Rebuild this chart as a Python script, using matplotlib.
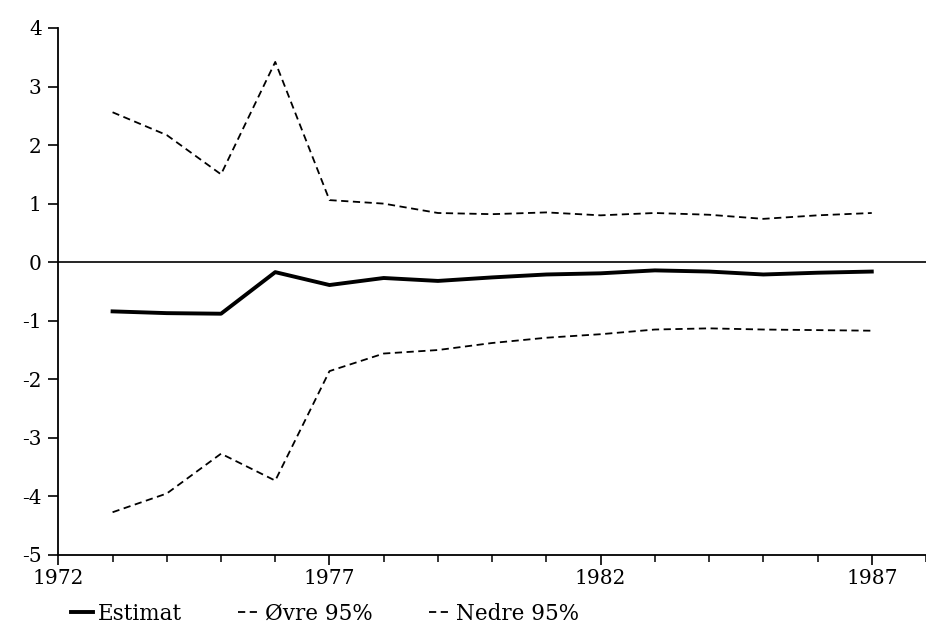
import matplotlib
matplotlib.use("Agg")
import matplotlib.pyplot as plt
import numpy as np

years = np.arange(1973, 1988)
estimat = [-0.84, -0.87, -0.88, -0.17, -0.39, -0.27, -0.32, -0.26, -0.21, -0.19,
           -0.14, -0.16, -0.21, -0.18, -0.16]
ovre = [2.56, 2.17, 1.50, 3.42, 1.06, 1.00, 0.84, 0.82, 0.85, 0.80,
        0.84, 0.81, 0.74, 0.80, 0.84]
nedre = [-4.27, -3.95, -3.27, -3.73, -1.86, -1.56, -1.50, -1.38, -1.29, -1.23,
         -1.15, -1.13, -1.15, -1.16, -1.17]

major_years = [1972, 1977, 1982, 1987]
yticks = list(range(-5, 5))

plt.rcParams["font.family"] = ["DejaVu Serif"]
plt.rcParams["axes.unicode_minus"] = False

fig = plt.figure(figsize=(9.26, 6.35), dpi=100)
ax = fig.add_axes([0.063, 0.126, 0.937, 0.830])

ax.plot(years, estimat, color="black", lw=2.8, solid_joinstyle="round", label="Estimat")
ax.plot(years, ovre, color="black", lw=1.3, dashes=(4, 2.5), label="Øvre 95%")
ax.plot(years, nedre, color="black", lw=1.3, dashes=(4, 2.5), label="Nedre 95%")
ax.axhline(0, color="black", lw=1.2)

ax.set_xlim(1972, 1988)
ax.set_ylim(-5, 4)
ax.set_xticks(major_years)
ax.set_xticks(np.arange(1972, 1989), minor=True)
ax.set_yticks(yticks)
ax.tick_params(axis="both", which="major", direction="out", length=7, width=1.2,
               labelsize=14.5, colors="black")
ax.tick_params(axis="x", which="minor", direction="out", length=5, width=1.1)
ax.tick_params(axis="x", pad=3)
ax.tick_params(axis="y", pad=5)
ax.spines["top"].set_visible(False)
ax.spines["right"].set_visible(False)
ax.spines["left"].set_linewidth(1.3)
ax.spines["bottom"].set_linewidth(1.3)

fig.legend(loc="lower left", bbox_to_anchor=(0.056, -0.014), ncol=3, frameon=False,
           fontsize=15.5, handlelength=1.0, handletextpad=0.25, columnspacing=2.6)

fig.savefig("out.png", dpi=100)
